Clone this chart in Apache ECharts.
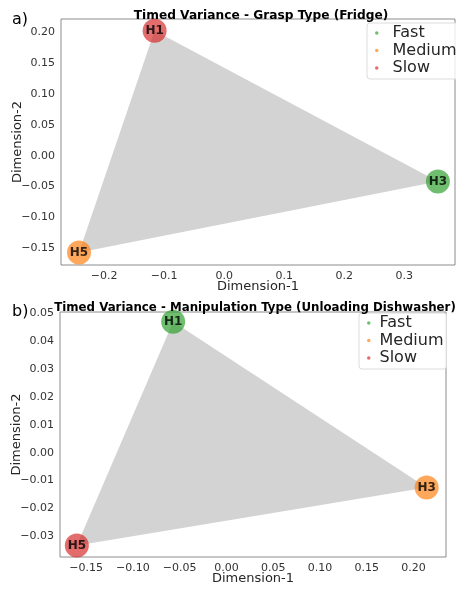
<!DOCTYPE html>
<html>
<head>
<meta charset="utf-8">
<script src="https://cdn.jsdelivr.net/npm/echarts@6/dist/echarts.min.js"></script>
<style>html,body{margin:0;padding:0;background:#fff}#c{width:456px;height:589px}</style>
</head>
<body>
<div id="c"></div>
<script>
// ---- data ----
const speedNames = ['Fast', 'Medium', 'Slow'];
const speedColors = ['rgba(44,160,44,0.85)', 'rgba(255,127,14,0.85)', 'rgba(214,39,40,0.85)'];

const titleA = 'Timed Variance - Grasp Type (Fridge)';
const labelsA = ['H1', 'H3', 'H5'];
const dim1A = [-0.116, 0.356, -0.242];
const dim2A = [0.203, -0.042, -0.157];
const speedA = ['Slow', 'Fast', 'Medium'];
const xTicksA = [-0.2, -0.1, 0.0, 0.1, 0.2, 0.3];
const yTicksA = [-0.15, -0.10, -0.05, 0.00, 0.05, 0.10, 0.15, 0.20];

const titleB = 'Timed Variance - Manipulation Type (Unloading Dishwasher)';
const labelsB = ['H1', 'H3', 'H5'];
const dim1B = [-0.057, 0.214, -0.160];
const dim2B = [0.047, -0.0125, -0.0333];
const speedB = ['Fast', 'Medium', 'Slow'];
const xTicksB = [-0.15, -0.10, -0.05, 0.00, 0.05, 0.10, 0.15, 0.20];
const yTicksB = [-0.03, -0.02, -0.01, 0.00, 0.01, 0.02, 0.03, 0.04, 0.05];

// ---- helpers ----
const FONT = 'DejaVu Sans';
function fmt(d) { return v => (v < 0 ? '\u2212' : '') + Math.abs(v).toFixed(d); }

function makeAxis(gi, min, max, ticks, dec, name, isX, nameGap) {
  return {
    type: 'value', gridIndex: gi, min: min, max: max,
    name: name, nameLocation: 'middle', nameGap: nameGap, nameMoveOverlap: false,
    nameTextStyle: { fontFamily: FONT, fontSize: 13, color: '#262626' },
    axisLine: { show: false },
    axisTick: { show: false, customValues: ticks },
    splitLine: { show: false },
    axisLabel: {
      customValues: ticks, formatter: fmt(dec), fontFamily: FONT, fontSize: 11,
      color: '#333', margin: 6, showMinLabel: true, showMaxLabel: true
    }
  };
}

function panelSeries(gi, labels, d1, d2, sp) {
  const out = [];
  const poly = labels.map((l, i) => [d1[i], d2[i]]);
  out.push({
    type: 'custom', name: 'hull' + gi, xAxisIndex: gi, yAxisIndex: gi, silent: true,
    data: [0], z: 1,
    renderItem: function (params, api) {
      const pts = poly.map(p => api.coord(p));
      return { type: 'polygon', shape: { points: pts }, style: { fill: '#d3d3d3' } };
    }
  });
  speedNames.forEach((s, k) => {
    const data = [];
    labels.forEach((l, i) => { if (sp[i] === s) data.push({ value: [d1[i], d2[i]], name: l }); });
    out.push({
      type: 'scatter', name: s, xAxisIndex: gi, yAxisIndex: gi, z: 3,
      symbol: 'circle', symbolSize: 24,
      itemStyle: { color: speedColors[k] },
      label: { show: true, position: 'inside', formatter: '{b}', fontFamily: FONT,
               fontWeight: 'bold', fontSize: 12, color: '#000' },
      data: data
    });
  });
  return out;
}

function legend(left, top, textGap) {
  return {
    data: speedNames, orient: 'vertical', left: left, top: top,
    icon: 'circle', itemWidth: 3.5, itemHeight: 3.5, itemGap: 1.5,
    padding: [2, 3, 3, 8], borderColor: '#dcdcdc', borderWidth: 1, borderRadius: 3,
    backgroundColor: 'rgba(255,255,255,0.8)', selectedMode: false,
    textStyle: { fontFamily: FONT, fontSize: 16, color: '#262626', padding: [0, 0, 0, textGap], lineHeight: 16 }
  };
}

const chart = echarts.init(document.getElementById('c'));
chart.setOption({
  animation: false,
  backgroundColor: '#fff',
  title: [
    { text: titleA, left: 256, top: 5, textAlign: 'center',
      textStyle: { fontFamily: FONT, fontSize: 12.2, fontWeight: 'bold', color: '#000' } },
    { text: titleB, left: 250, top: 297, textAlign: 'center',
      textStyle: { fontFamily: FONT, fontSize: 11.8, fontWeight: 'bold', color: '#000' } },
    { text: 'a)', left: 7, top: 7, textStyle: { fontFamily: FONT, fontSize: 16, fontWeight: 'normal', color: '#000' } },
    { text: 'b)', left: 7, top: 299, textStyle: { fontFamily: FONT, fontSize: 16, fontWeight: 'normal', color: '#000' } }
  ],
  legend: [legend(367, 23, 9), legend(359, 313, 4)],
  grid: [
    { left: 61, top: 19, width: 394, height: 246, outerBoundsMode: 'none', containLabel: false,
      show: true, borderColor: '#8c8c8c', borderWidth: 1, backgroundColor: 'transparent' },
    { left: 60, top: 312, width: 386, height: 245, outerBoundsMode: 'none', containLabel: false,
      show: true, borderColor: '#8c8c8c', borderWidth: 1, backgroundColor: 'transparent' }
  ],
  xAxis: [
    makeAxis(0, -0.272, 0.3845, xTicksA, 1, 'Dimension-1', true, 15),
    makeAxis(1, -0.178, 0.2347, xTicksB, 2, 'Dimension-1', true, 15)
  ],
  yAxis: [
    makeAxis(0, -0.1774, 0.2219, yTicksA, 2, 'Dimension-2', false, 37),
    makeAxis(1, -0.0374, 0.0505, yTicksB, 2, 'Dimension-2', false, 37)
  ],
  series: [].concat(
    panelSeries(0, labelsA, dim1A, dim2A, speedA),
    panelSeries(1, labelsB, dim1B, dim2B, speedB)
  )
});
</script>
</body>
</html>
